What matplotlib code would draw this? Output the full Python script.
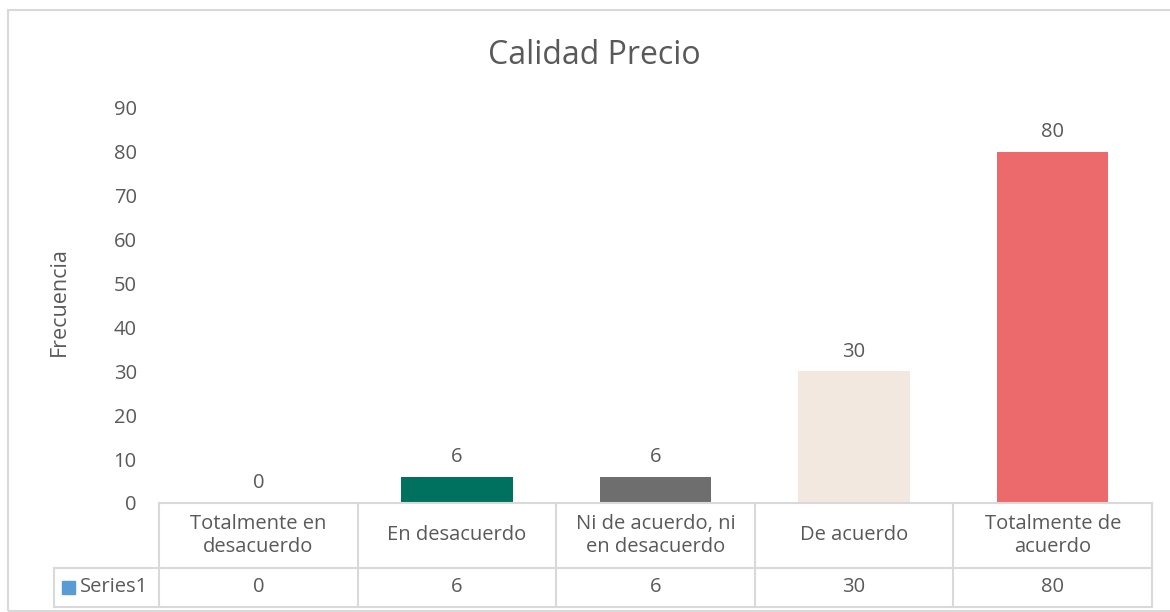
import matplotlib.pyplot as plt
from matplotlib.patches import Rectangle

categorias = ["Totalmente en\ndesacuerdo", "En desacuerdo", "Ni de acuerdo, ni\nen desacuerdo",
              "De acuerdo", "Totalmente de\nacuerdo"]
frecuencias = [0, 6, 6, 30, 80]
colores = ["#4472C4", "#00705F", "#6E6E6E", "#F3E8DF", "#EC6A6B"]
serie = "Series1"

plt.rcParams['font.family'] = ['Open Sans', 'DejaVu Sans']
gris_texto = "#595959"
gris_linea = "#D9D9D9"
fs = 14.5

fig = plt.figure(figsize=(11.7, 6.12), dpi=100)
W, H = 1170, 612
# area de grafico (en pixeles de la imagen)
x0, x1, ytop, ybase = 159, 1152, 108, 503
ax = fig.add_axes([x0 / W, 1 - ybase / H, (x1 - x0) / W, (ybase - ytop) / H])

# borde exterior del grafico
fig.patches.append(Rectangle((8 / W, 1 - 611 / H), 1.2, (611 - 10) / H, transform=fig.transFigure,
                             fill=False, edgecolor=gris_linea, linewidth=1.5))

pos = range(len(frecuencias))
barras = ax.bar(pos, frecuencias, width=0.56, color=colores)
for b, v in zip(barras, frecuencias):
    ax.annotate(str(v), (b.get_x() + b.get_width() / 2, v), xytext=(0, 7), textcoords="offset points",
                ha="center", va="bottom", fontsize=fs, color=gris_texto)

ax.set_xlim(-0.5, len(frecuencias) - 0.5)
ax.set_ylim(0, 90)
ax.set_yticks(range(0, 91, 10))
ax.tick_params(axis="y", length=0, labelsize=fs, labelcolor=gris_texto, pad=16)
ax.set_xticks([])
for s in ax.spines.values():
    s.set_visible(False)

fig.text(59 / W, 1 - 302 / H, "Frecuencia", rotation=90, ha="center", va="center",
         fontsize=15.5, color=gris_texto)
fig.text(594 / W, 1 - 56 / H, "Calidad Precio", ha="center", va="center", fontsize=23, color=gris_texto)

# tabla de datos debajo del eje
h1 = -(568 - ybase) / (ybase - ytop)
h2 = -(607 - ybase) / (ybase - ytop)
xl = (54 - x0) / (x1 - x0)
n = len(frecuencias)
kw = dict(transform=ax.transAxes, color=gris_linea, lw=1.5, clip_on=False)
ax.plot([0, 1], [0, 0], **kw)
ax.plot([xl, 1], [h1, h1], **kw)
ax.plot([xl, 1], [h2, h2], **kw)
ax.plot([xl, xl], [h1, h2], **kw)
for k in range(n + 1):
    ax.plot([k / n, k / n], [0, h2], **kw)
for k in range(n):
    xc = (k + 0.5) / n
    ax.text(xc, h1 / 2, categorias[k], transform=ax.transAxes, ha="center", va="center",
            fontsize=fs, color=gris_texto, linespacing=1.25)
    ax.text(xc, (h1 + h2) / 2, str(frecuencias[k]), transform=ax.transAxes, ha="center", va="center",
            fontsize=fs, color=gris_texto)
yc = 1 - 587.5 / H
fig.patches.append(Rectangle((62 / W, yc - 6.5 / H), 13 / W, 13 / H, transform=fig.transFigure,
                             color="#5B9BD5"))
fig.text(80 / W, yc, serie, ha="left", va="center", fontsize=fs, color=gris_texto)

fig.savefig("out.png", dpi=100)
